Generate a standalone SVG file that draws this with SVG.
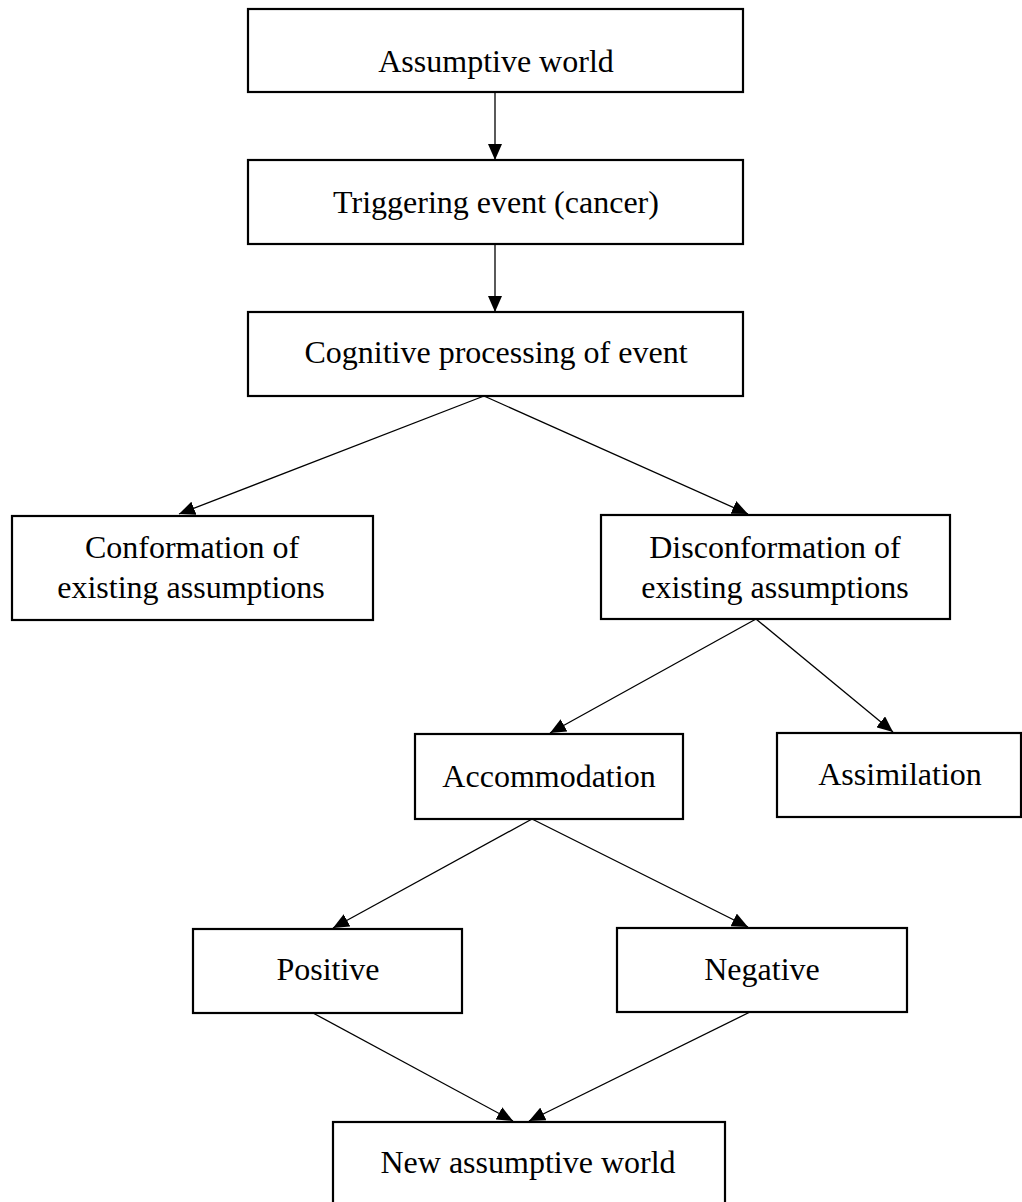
<svg xmlns="http://www.w3.org/2000/svg" width="1022" height="1202" viewBox="0 0 1022 1202">
<style>
.box{fill:#fff;stroke:#000;stroke-width:2.2}
.t{font-family:"Liberation Serif","Times New Roman",serif;font-size:32px;fill:#000;text-anchor:middle}
.c{stroke:#000;stroke-width:1.3;fill:none;marker-end:url(#ah)}
</style>
<defs>
<marker id="ah" markerUnits="userSpaceOnUse" markerWidth="16" markerHeight="14" refX="16" refY="7" orient="auto">
<path d="M0,0 L16,7 L0,14 z" fill="#000"/>
</marker>
</defs>
<rect width="1022" height="1202" fill="#fff"/>
<g id="connectors">
<line class="c" x1="495" y1="93" x2="495" y2="160"/>
<line class="c" x1="495" y1="244" x2="495" y2="312"/>
<line class="c" x1="484" y1="396" x2="179" y2="514"/>
<line class="c" x1="484" y1="396" x2="748" y2="514"/>
<line class="c" x1="756" y1="619" x2="550" y2="733"/>
<line class="c" x1="756" y1="619" x2="893" y2="732"/>
<line class="c" x1="532" y1="819" x2="333" y2="928"/>
<line class="c" x1="532" y1="819" x2="748" y2="927"/>
<line class="c" x1="313" y1="1013" x2="513" y2="1121"/>
<line class="c" x1="750" y1="1012" x2="529" y2="1121"/>
</g>
<g id="n1"><rect class="box" x="248" y="9" width="495" height="83"/><text class="t" x="496" y="72">Assumptive world</text></g>
<g id="n2"><rect class="box" x="248" y="160" width="495" height="84"/><text class="t" x="496" y="213">Triggering event (cancer)</text></g>
<g id="n3"><rect class="box" x="248" y="312" width="495" height="84"/><text class="t" x="496" y="363">Cognitive processing of event</text></g>
<g id="n4"><rect class="box" x="12" y="516" width="361" height="104"/><text class="t" x="192" y="558">Conformation of</text><text class="t" x="191" y="598">existing assumptions</text></g>
<g id="n5"><rect class="box" x="601" y="515" width="349" height="104"/><text class="t" x="775" y="558">Disconformation of</text><text class="t" x="775" y="598">existing assumptions</text></g>
<g id="n6"><rect class="box" x="415" y="734" width="268" height="85"/><text class="t" x="549" y="787">Accommodation</text></g>
<g id="n7"><rect class="box" x="777" y="733" width="244" height="84"/><text class="t" x="900" y="785">Assimilation</text></g>
<g id="n8"><rect class="box" x="193" y="929" width="269" height="84"/><text class="t" x="328" y="980">Positive</text></g>
<g id="n9"><rect class="box" x="617" y="928" width="290" height="84"/><text class="t" x="762" y="980">Negative</text></g>
<g id="n10"><rect class="box" x="333" y="1122" width="392" height="90"/><text class="t" x="528" y="1173">New assumptive world</text></g>
</svg>
